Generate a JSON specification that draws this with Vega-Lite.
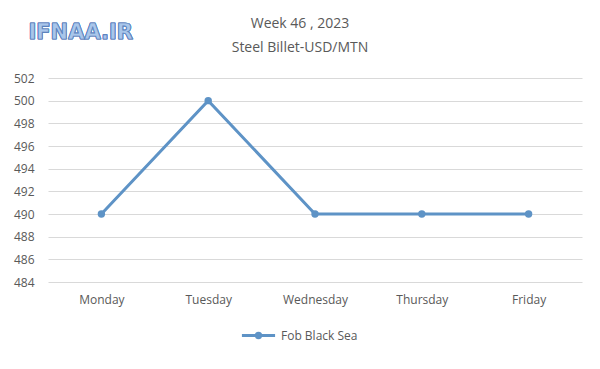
{
  "$schema": "https://vega.github.io/schema/vega-lite/v6.json",
  "width": 534,
  "height": 204,
  "autosize": {"type": "none"},
  "padding": {"left": 48, "top": 78, "right": 18, "bottom": 87},
  "background": "white",
  "title": {
    "text": ["Week 46  , 2023", "Steel Billet-USD/MTN"],
    "anchor": "middle",
    "dx": -15,
    "offset": -33,
    "font": "Open Sans",
    "fontSize": 14,
    "fontWeight": "normal",
    "color": "#595959",
    "lineHeight": 24
  },
  "data": {
    "values": [
      {"day": "Monday", "price": 490, "series": "Fob Black Sea"},
      {"day": "Tuesday", "price": 500, "series": "Fob Black Sea"},
      {"day": "Wednesday", "price": 490, "series": "Fob Black Sea"},
      {"day": "Thursday", "price": 490, "series": "Fob Black Sea"},
      {"day": "Friday", "price": 490, "series": "Fob Black Sea"}
    ]
  },
  "layer": [
    {
      "mark": {"type": "line", "strokeWidth": 3, "point": {"filled": true, "size": 55}},
      "encoding": {
        "x": {
          "field": "day", "type": "nominal", "sort": null,
          "scale": {"paddingInner": 0, "paddingOuter": 0.5},
          "axis": {"title": null, "labelAngle": 0, "domain": false, "ticks": false, "labelPadding": 12}
        },
        "y": {
          "field": "price", "type": "quantitative",
          "scale": {"domain": [484, 502], "zero": false, "nice": false},
          "axis": {"title": null, "values": [484,486,488,490,492,494,496,498,500,502], "labelOverlap": false, "domain": false, "ticks": false, "labelPadding": 14}
        },
        "color": {
          "field": "series", "type": "nominal",
          "scale": {"range": ["#5E93C6"]},
          "legend": {
            "title": null,
            "orient": "none",
            "legendX": 192,
            "legendY": 239,
            "symbolType": "M-1,0H1M-0.13,0a0.13,0.13 0 1,0 0.26,0a0.13,0.13 0 1,0 -0.26,0",
            "symbolSize": 1100,
            "symbolStrokeWidth": 3,
            "labelFont": "Open Sans",
            "labelFontSize": 12,
            "labelColor": "#595959",
            "labelOffset": 4
          }
        }
      }
    },
    {
      "mark": {
        "type": "text",
        "text": "IFNAA.IR",
        "font": "DejaVu Sans",
        "fontSize": 21,
        "fontWeight": "bold",
        "fill": "#A9C6EA",
        "stroke": "#5A82BE",
        "strokeWidth": 0.7,
        "align": "left",
        "baseline": "middle",
        "dx": -73,
        "dy": -45,
        "clip": false
      },
      "encoding": {
        "x": {"datum": "Monday", "type": "nominal"},
        "y": {
          "datum": 502, "type": "quantitative",
          "scale": {"domain": [484, 502], "zero": false, "nice": false},
          "axis": {"title": null, "values": [484,486,488,490,492,494,496,498,500,502], "labelOverlap": false, "domain": false, "ticks": false, "labelPadding": 14}
        }
      }
    }
  ],
  "config": {
    "view": {"stroke": null},
    "axis": {
      "labelFont": "Open Sans",
      "labelFontSize": 12,
      "labelColor": "#595959",
      "gridColor": "#D9D9D9",
      "gridWidth": 1
    },
    "axisX": {"grid": false},
    "axisY": {"grid": true}
  }
}
